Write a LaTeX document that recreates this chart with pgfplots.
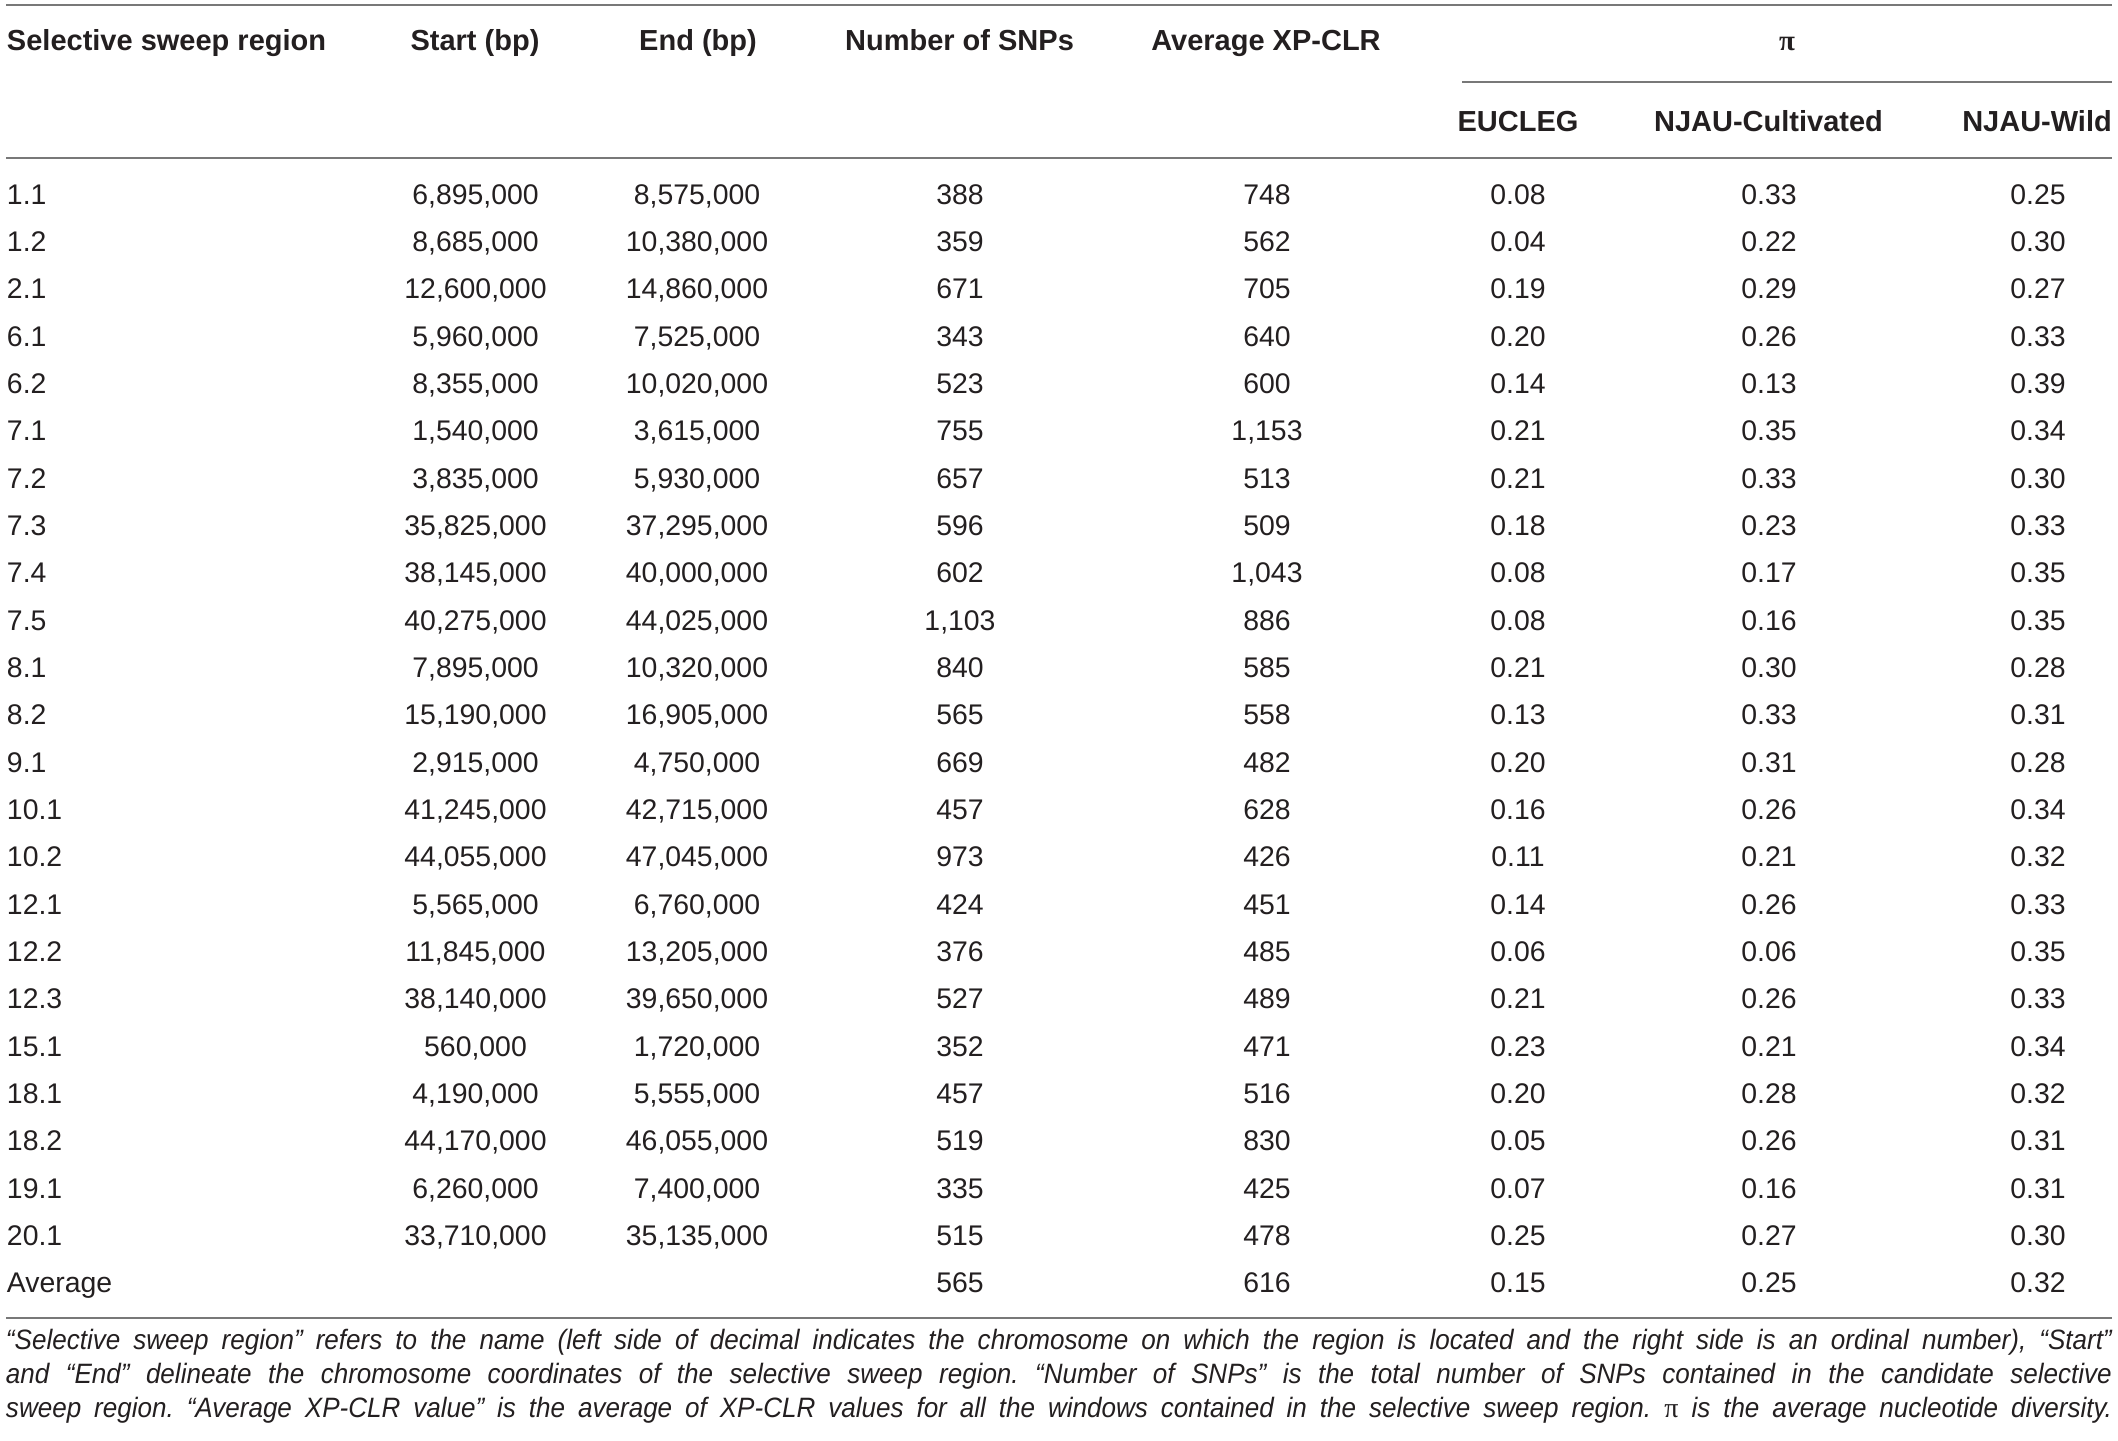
\documentclass[border=0pt]{standalone}
\usepackage{pgfplots}
\pgfplotsset{compat=1.18}
\usepackage{pgfplotstable}
\usepackage{fontspec}
\setmainfont{Liberation Sans}
\newfontfamily\pifont{Liberation Serif}
\newfontfamily\capfam{Liberation Sans}[FakeStretch=0.93]
\definecolor{txt}{RGB}{35,31,32}
\definecolor{rulec}{RGB}{120,120,120}
\newcommand\bodyfont{\fontsize{7.1pt}{8.5pt}\selectfont}
\newcommand\headfont{\fontsize{7.25pt}{8.5pt}\selectfont\bfseries}
\newcommand\capfont{\capfam\fontsize{7pt}{8.5pt}\selectfont\itshape\frenchspacing}

\pgfplotstableread{
region start end snps xpclr eucleg njauc njauw
1.1 6,895,000 8,575,000 388 748 0.08 0.33 0.25
1.2 8,685,000 10,380,000 359 562 0.04 0.22 0.30
2.1 12,600,000 14,860,000 671 705 0.19 0.29 0.27
6.1 5,960,000 7,525,000 343 640 0.20 0.26 0.33
6.2 8,355,000 10,020,000 523 600 0.14 0.13 0.39
7.1 1,540,000 3,615,000 755 1,153 0.21 0.35 0.34
7.2 3,835,000 5,930,000 657 513 0.21 0.33 0.30
7.3 35,825,000 37,295,000 596 509 0.18 0.23 0.33
7.4 38,145,000 40,000,000 602 1,043 0.08 0.17 0.35
7.5 40,275,000 44,025,000 1,103 886 0.08 0.16 0.35
8.1 7,895,000 10,320,000 840 585 0.21 0.30 0.28
8.2 15,190,000 16,905,000 565 558 0.13 0.33 0.31
9.1 2,915,000 4,750,000 669 482 0.20 0.31 0.28
10.1 41,245,000 42,715,000 457 628 0.16 0.26 0.34
10.2 44,055,000 47,045,000 973 426 0.11 0.21 0.32
12.1 5,565,000 6,760,000 424 451 0.14 0.26 0.33
12.2 11,845,000 13,205,000 376 485 0.06 0.06 0.35
12.3 38,140,000 39,650,000 527 489 0.21 0.26 0.33
15.1 560,000 1,720,000 352 471 0.23 0.21 0.34
18.1 4,190,000 5,555,000 457 516 0.20 0.28 0.32
18.2 44,170,000 46,055,000 519 830 0.05 0.26 0.31
19.1 6,260,000 7,400,000 335 425 0.07 0.16 0.31
20.1 33,710,000 35,135,000 515 478 0.25 0.27 0.30
Average {} {} 565 616 0.15 0.25 0.32
}\sweeps

\pgfplotsset{
  cell/.style={draw=none, mark=none, nodes near coords,
    point meta=explicit symbolic,
    every node near coord/.append style={anchor=#1, inner sep=0pt, outer sep=0pt,
      text=txt, font=\bodyfont}},
  cell/.default=base,
}

\begin{document}
\begin{tikzpicture}
\begin{axis}[
  width=529.5pt, height=360.25pt, scale only axis,
  xmin=0, xmax=2118, ymin=0, ymax=1441, y dir=reverse,
  hide axis, clip=false,
]
% full page extent
\path (axis cs:0,0) rectangle (axis cs:2118,1441);
% rules
\draw[rulec, line width=0.5pt] (axis cs:6,5) -- (axis cs:2112,5);
\draw[rulec, line width=0.5pt] (axis cs:1462,82.3) -- (axis cs:2112,82.3);
\draw[rulec, line width=0.5pt] (axis cs:6,158.3) -- (axis cs:2112,158.3);
\draw[rulec, line width=0.5pt] (axis cs:6,1318) -- (axis cs:2112,1318);
% headers
\begin{scope}[every node/.style={inner sep=0pt, outer sep=0pt, text=txt, font=\headfont}]
\node[anchor=base west] at (axis cs:7,51) {Selective sweep region};
\node[anchor=base] at (axis cs:475,51) {Start (bp)};
\node[anchor=base] at (axis cs:698,51) {End (bp)};
\node[anchor=base] at (axis cs:959.5,51) {Number of SNPs};
\node[anchor=base] at (axis cs:1266,51) {Average XP-CLR};
\node[anchor=base] at (axis cs:1787,51) {\pifont\bfseries π};
\node[anchor=base] at (axis cs:1518,131.5) {EUCLEG};
\node[anchor=base] at (axis cs:1768.5,131.5) {NJAU-Cultivated};
\node[anchor=base] at (axis cs:2037,131.5) {NJAU-Wild};
\end{scope}
% body cells
\addplot[cell=base west] table[x expr=7, y expr=204.3+47.33*\coordindex, meta=region] {\sweeps};
\addplot[cell] table[x expr=475.5, y expr=204.3+47.33*\coordindex, meta=start] {\sweeps};
\addplot[cell] table[x expr=697, y expr=204.3+47.33*\coordindex, meta=end] {\sweeps};
\addplot[cell] table[x expr=960, y expr=204.3+47.33*\coordindex, meta=snps] {\sweeps};
\addplot[cell] table[x expr=1267, y expr=204.3+47.33*\coordindex, meta=xpclr] {\sweeps};
\addplot[cell] table[x expr=1518, y expr=204.3+47.33*\coordindex, meta=eucleg] {\sweeps};
\addplot[cell] table[x expr=1769, y expr=204.3+47.33*\coordindex, meta=njauc] {\sweeps};
\addplot[cell] table[x expr=2038, y expr=204.3+47.33*\coordindex, meta=njauw] {\sweeps};
% caption
\begin{scope}[every node/.style={inner sep=0pt, outer sep=0pt, text=txt, font=\capfont, anchor=base west}]
\node at (axis cs:6,1349) {\hbox to 526.5pt{“Selective sweep region” refers to the name (left side of decimal indicates the chromosome on which the region is located and the right side is an ordinal number), “Start”}};
\node at (axis cs:6,1383.4) {\hbox to 526.5pt{and “End” delineate the chromosome coordinates of the selective sweep region. “Number of SNPs” is the total number of SNPs contained in the candidate selective}};
\node at (axis cs:6,1417.8) {\hbox to 526.5pt{sweep region. “Average XP-CLR value” is the average of XP-CLR values for all the windows contained in the selective sweep region. {\pifont\upshape π} is the average nucleotide diversity.}};
\end{scope}
\end{axis}
\end{tikzpicture}
\end{document}
